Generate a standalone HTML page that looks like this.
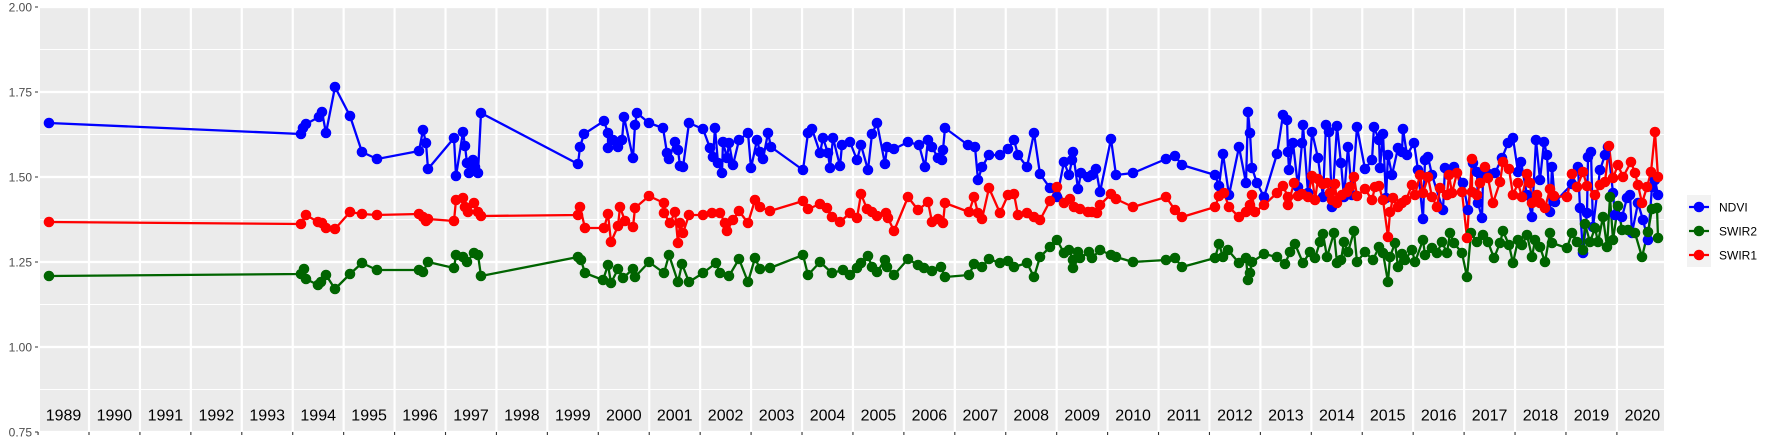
<!DOCTYPE html>
<html><head><meta charset="utf-8"><style>
html,body{margin:0;padding:0;background:#fff;}
svg{display:block;font-family:"Liberation Sans",Arial,sans-serif;}
</style></head><body>
<svg width="1773" height="442" viewBox="0 0 1773 442" xmlns="http://www.w3.org/2000/svg">
<rect x="0" y="0" width="1773" height="442" fill="#fff"/>
<rect x="40" y="7" width="1624" height="425" fill="#EBEBEB"/>
<g stroke="#fff" stroke-width="1.1">
<line x1="40" x2="1664" y1="49.5" y2="49.5"/><line x1="40" x2="1664" y1="134.5" y2="134.5"/><line x1="40" x2="1664" y1="219.5" y2="219.5"/><line x1="40" x2="1664" y1="304.5" y2="304.5"/><line x1="40" x2="1664" y1="389.5" y2="389.5"/>
</g>
<g stroke="#fff" stroke-width="2.2">
<line x1="40" x2="1664" y1="7" y2="7"/><line x1="40" x2="1664" y1="92" y2="92"/><line x1="40" x2="1664" y1="177" y2="177"/><line x1="40" x2="1664" y1="262" y2="262"/><line x1="40" x2="1664" y1="347" y2="347"/><line x1="40" x2="1664" y1="432" y2="432"/>
<path d="M89 7V432M139.93 7V432M190.86 7V432M241.79 7V432M292.72 7V432M343.65 7V432M394.58 7V432M445.51 7V432M496.44 7V432M547.37 7V432M598.3 7V432M649.23 7V432M700.16 7V432M751.09 7V432M802.02 7V432M852.95 7V432M903.88 7V432M954.81 7V432M1005.74 7V432M1056.67 7V432M1107.6 7V432M1158.53 7V432M1209.46 7V432M1260.39 7V432M1311.32 7V432M1362.25 7V432M1413.18 7V432M1464.11 7V432M1515.04 7V432M1565.97 7V432M1616.9 7V432"/>
</g>
<rect x="40" y="432" width="1624" height="10" fill="#fff"/>
<rect x="36" y="0" width="4" height="442" fill="#fff"/>
<g stroke="#333" stroke-width="1.1">
<path d="M35 7H38M35 92H38M35 177H38M35 262H38M35 347H38M35 432H38"/>
<path d="M38.07 432V435M89 432V435M139.93 432V435M190.86 432V435M241.79 432V435M292.72 432V435M343.65 432V435M394.58 432V435M445.51 432V435M496.44 432V435M547.37 432V435M598.3 432V435M649.23 432V435M700.16 432V435M751.09 432V435M802.02 432V435M852.95 432V435M903.88 432V435M954.81 432V435M1005.74 432V435M1056.67 432V435M1107.6 432V435M1158.53 432V435M1209.46 432V435M1260.39 432V435M1311.32 432V435M1362.25 432V435M1413.18 432V435M1464.11 432V435M1515.04 432V435M1565.97 432V435M1616.9 432V435"/>
</g>
<g font-size="12" fill="#4D4D4D" text-anchor="end">
<text x="32" y="11.3">2.00</text><text x="32" y="96.3">1.75</text><text x="32" y="181.3">1.50</text><text x="32" y="266.3">1.25</text><text x="32" y="351.3">1.00</text><text x="32" y="436.3">0.75</text>
</g>
<g font-size="16" fill="#000" text-anchor="middle">
<text x="63.5" y="420.5">1989</text><text x="114.4" y="420.5">1990</text><text x="165.4" y="420.5">1991</text><text x="216.3" y="420.5">1992</text><text x="267.2" y="420.5">1993</text><text x="318.2" y="420.5">1994</text><text x="369.1" y="420.5">1995</text><text x="420" y="420.5">1996</text><text x="471" y="420.5">1997</text><text x="521.9" y="420.5">1998</text><text x="572.8" y="420.5">1999</text><text x="623.8" y="420.5">2000</text><text x="674.7" y="420.5">2001</text><text x="725.6" y="420.5">2002</text><text x="776.6" y="420.5">2003</text><text x="827.5" y="420.5">2004</text><text x="878.4" y="420.5">2005</text><text x="929.4" y="420.5">2006</text><text x="980.3" y="420.5">2007</text><text x="1031.2" y="420.5">2008</text><text x="1082.2" y="420.5">2009</text><text x="1133.1" y="420.5">2010</text><text x="1184" y="420.5">2011</text><text x="1234.9" y="420.5">2012</text><text x="1285.9" y="420.5">2013</text><text x="1336.8" y="420.5">2014</text><text x="1387.7" y="420.5">2015</text><text x="1438.7" y="420.5">2016</text><text x="1489.6" y="420.5">2017</text><text x="1540.5" y="420.5">2018</text><text x="1591.5" y="420.5">2019</text><text x="1642.4" y="420.5">2020</text>
</g>

<g fill="none" stroke-width="2.3" stroke-linejoin="round">
<polyline stroke="#0000FF" points="49,123 301,134 303,128 306,124 319,117 322,112 326,133 335,87 350,116 362,152 377,159 419,151 423,130 426,143 428,169 454,138 456,176 463,132 465,146 467,163 469,173 473,160 475,167 478,173 481,113 578,164 580,147 584,134 604,121 608,133 608,148 613,140 618,147 622,140 624,117 633,158 635,125 637,113 649,123 663,128 667,153 669,159 675,142 678,150 680,166 683,167 689,123 703,129 710,148 713,157 715,128 718,163 722,173 723,142 727,158 729,143 733,165 739,140 748,133 751,168 757,140 760,152 763,159 768,133 771,147 803,170 808,133 812,129 820,153 823,138 828,153 830,168 833,138 840,166 842,145 850,142 857,160 861,145 868,170 872,134 877,123 885,164 887,147 894,149 908,142 919,145 925,167 928,140 932,147 938,158 942,160 943,150 945,128 968,145 975,147 978,180 982,167 989,155 1000,155 1008,149 1014,140 1018,155 1027,167 1034,133 1040,174 1050,188 1057,197 1064,162 1069,175 1072,160 1073,152 1078,189 1081,173 1088,177 1092,175 1096,169 1100,192 1111,139 1116,175 1133,173 1166,159 1175,156 1182,165 1215,175 1219,186 1223,154 1229,195 1239,147 1246,183 1248,112 1250,133 1252,168 1257,183 1264,197 1277,154 1283,115 1287,120 1288,152 1289,170 1293,143 1298,187 1302,143 1303,125 1308,193 1312,132 1318,158 1323,197 1326,125 1329,132 1332,207 1337,126 1341,163 1344,197 1348,147 1352,195 1357,127 1365,169 1372,160 1374,127 1379,140 1380,168 1383,134 1386,198 1388,155 1392,175 1398,148 1402,152 1403,129 1407,155 1414,143 1418,170 1423,219 1425,160 1428,157 1432,175 1443,210 1445,168 1454,167 1463,183 1468,210 1473,163 1477,172 1478,203 1482,218 1483,177 1487,173 1495,173 1502,158 1508,143 1513,138 1518,172 1521,162 1527,195 1532,217 1536,140 1540,180 1544,142 1547,155 1550,212 1552,167 1555,202 1572,184 1578,167 1580,208 1583,253 1587,213 1588,157 1591,152 1593,227 1600,170 1605,155 1608,147 1613,193 1615,215 1622,217 1627,198 1630,195 1632,233 1638,203 1643,220 1648,240 1652,187 1655,180 1658,195"/>
<polyline stroke="#006400" points="49,276 301,274 304,269 306,279 318,285 321,282 326,275 335,289 350,274 362,263 377,270 419,270 423,272 428,262 454,268 456,255 463,257 467,262 474,253 478,255 481,276 578,257 581,260 585,273 603,280 608,265 611,283 618,269 623,278 633,269 635,277 649,262 664,273 669,255 678,282 682,264 689,282 703,273 716,263 720,273 729,276 739,259 748,282 755,258 760,269 770,268 803,255 808,275 820,262 832,273 843,270 850,275 857,268 861,263 868,256 872,267 877,272 885,260 887,267 894,275 908,259 918,265 924,268 932,271 941,267 945,277 969,275 974,264 982,267 989,259 1000,263 1008,261 1014,267 1027,263 1034,277 1040,257 1050,247 1057,240 1064,253 1069,250 1073,260 1073,268 1078,252 1080,258 1089,252 1092,258 1100,250 1111,255 1116,257 1133,262 1166,260 1175,258 1182,267 1215,258 1219,244 1223,257 1228,250 1239,263 1246,258 1248,280 1250,273 1252,262 1264,254 1277,257 1285,264 1290,252 1295,244 1303,263 1310,252 1315,258 1320,242 1323,234 1327,257 1334,233 1337,263 1341,260 1344,242 1348,252 1354,231 1357,262 1365,252 1373,260 1379,247 1383,253 1388,282 1390,257 1395,243 1398,267 1402,254 1405,260 1412,250 1415,262 1423,240 1425,255 1432,248 1437,253 1442,242 1447,253 1450,233 1454,243 1462,253 1467,277 1471,233 1477,242 1483,235 1488,242 1494,258 1500,243 1503,231 1509,245 1513,263 1518,240 1522,245 1527,235 1532,257 1535,240 1540,247 1545,262 1550,233 1552,243 1567,248 1572,233 1577,242 1583,250 1585,224 1590,242 1595,228 1598,242 1603,217 1607,247 1610,197 1613,240 1618,206 1622,230 1628,230 1635,233 1642,257 1648,232 1652,209 1657,208 1658,238"/>
<polyline stroke="#FF0000" points="49,222 301,224 306,215 318,222 322,223 326,228 335,229 350,212 362,214 377,215 419,214 423,217 426,221 428,219 454,221 456,200 463,198 465,207 468,212 474,203 478,212 481,216 578,215 580,207 585,228 604,228 608,214 611,242 618,226 620,207 625,221 633,227 635,208 649,196 664,203 664,213 670,223 675,212 678,243 680,223 683,233 689,215 703,215 712,213 720,213 725,223 727,231 733,220 739,211 748,223 755,200 760,207 770,211 803,201 808,209 820,204 827,208 832,217 840,222 850,213 857,218 861,194 867,209 872,212 877,216 886,213 888,218 894,231 908,197 918,210 928,202 932,222 938,219 943,223 945,203 969,212 974,197 978,213 982,219 989,188 1000,213 1008,195 1014,194 1018,215 1027,213 1034,217 1040,220 1050,201 1057,187 1064,203 1070,199 1074,207 1080,209 1088,212 1092,212 1097,213 1100,205 1111,194 1116,199 1133,207 1166,197 1175,210 1182,217 1215,207 1219,196 1224,193 1229,207 1239,217 1246,212 1250,205 1252,195 1255,212 1264,205 1277,193 1283,186 1288,197 1288,205 1294,183 1298,196 1302,194 1308,197 1312,176 1315,200 1318,179 1323,184 1327,183 1330,193 1332,200 1335,184 1337,203 1342,195 1347,192 1350,187 1354,177 1357,196 1365,189 1372,200 1375,187 1379,186 1383,200 1388,237 1390,212 1393,198 1398,207 1402,203 1406,200 1412,185 1415,195 1420,175 1423,193 1428,177 1432,197 1437,207 1440,188 1447,195 1449,175 1452,193 1457,173 1462,192 1467,238 1472,159 1472,192 1477,195 1480,183 1485,167 1488,178 1493,203 1500,182 1503,162 1509,169 1513,195 1518,183 1522,197 1527,174 1530,183 1532,203 1537,195 1540,203 1545,208 1550,189 1554,196 1567,197 1572,174 1577,187 1583,172 1587,186 1595,195 1600,185 1605,182 1609,146 1613,178 1618,165 1623,177 1631,162 1635,173 1638,185 1642,203 1647,187 1651,172 1655,132 1658,177"/>
</g>

<g fill="none" stroke-width="10.6" stroke-linecap="round">
<path stroke="#0000FF" d="M49 123h0M301 134h0M303 128h0M306 124h0M319 117h0M322 112h0M326 133h0M335 87h0M350 116h0M362 152h0M377 159h0M419 151h0M423 130h0M426 143h0M428 169h0M454 138h0M456 176h0M463 132h0M465 146h0M467 163h0M469 173h0M473 160h0M475 167h0M478 173h0M481 113h0M578 164h0M580 147h0M584 134h0M604 121h0M608 133h0M608 148h0M613 140h0M618 147h0M622 140h0M624 117h0M633 158h0M635 125h0M637 113h0M649 123h0M663 128h0M667 153h0M669 159h0M675 142h0M678 150h0M680 166h0M683 167h0M689 123h0M703 129h0M710 148h0M713 157h0M715 128h0M718 163h0M722 173h0M723 142h0M727 158h0M729 143h0M733 165h0M739 140h0M748 133h0M751 168h0M757 140h0M760 152h0M763 159h0M768 133h0M771 147h0M803 170h0M808 133h0M812 129h0M820 153h0M823 138h0M828 153h0M830 168h0M833 138h0M840 166h0M842 145h0M850 142h0M857 160h0M861 145h0M868 170h0M872 134h0M877 123h0M885 164h0M887 147h0M894 149h0M908 142h0M919 145h0M925 167h0M928 140h0M932 147h0M938 158h0M942 160h0M943 150h0M945 128h0M968 145h0M975 147h0M978 180h0M982 167h0M989 155h0M1000 155h0M1008 149h0M1014 140h0M1018 155h0M1027 167h0M1034 133h0M1040 174h0M1050 188h0M1057 197h0M1064 162h0M1069 175h0M1072 160h0M1073 152h0M1078 189h0M1081 173h0M1088 177h0M1092 175h0M1096 169h0M1100 192h0M1111 139h0M1116 175h0M1133 173h0M1166 159h0M1175 156h0M1182 165h0M1215 175h0M1219 186h0M1223 154h0M1229 195h0M1239 147h0M1246 183h0M1248 112h0M1250 133h0M1252 168h0M1257 183h0M1264 197h0M1277 154h0M1283 115h0M1287 120h0M1288 152h0M1289 170h0M1293 143h0M1298 187h0M1302 143h0M1303 125h0M1308 193h0M1312 132h0M1318 158h0M1323 197h0M1326 125h0M1329 132h0M1332 207h0M1337 126h0M1341 163h0M1344 197h0M1348 147h0M1352 195h0M1357 127h0M1365 169h0M1372 160h0M1374 127h0M1379 140h0M1380 168h0M1383 134h0M1386 198h0M1388 155h0M1392 175h0M1398 148h0M1402 152h0M1403 129h0M1407 155h0M1414 143h0M1418 170h0M1423 219h0M1425 160h0M1428 157h0M1432 175h0M1443 210h0M1445 168h0M1454 167h0M1463 183h0M1468 210h0M1473 163h0M1477 172h0M1478 203h0M1482 218h0M1483 177h0M1487 173h0M1495 173h0M1502 158h0M1508 143h0M1513 138h0M1518 172h0M1521 162h0M1527 195h0M1532 217h0M1536 140h0M1540 180h0M1544 142h0M1547 155h0M1550 212h0M1552 167h0M1555 202h0M1572 184h0M1578 167h0M1580 208h0M1583 253h0M1587 213h0M1588 157h0M1591 152h0M1593 227h0M1600 170h0M1605 155h0M1608 147h0M1613 193h0M1615 215h0M1622 217h0M1627 198h0M1630 195h0M1632 233h0M1638 203h0M1643 220h0M1648 240h0M1652 187h0M1655 180h0M1658 195h0"/>
<path stroke="#006400" d="M49 276h0M301 274h0M304 269h0M306 279h0M318 285h0M321 282h0M326 275h0M335 289h0M350 274h0M362 263h0M377 270h0M419 270h0M423 272h0M428 262h0M454 268h0M456 255h0M463 257h0M467 262h0M474 253h0M478 255h0M481 276h0M578 257h0M581 260h0M585 273h0M603 280h0M608 265h0M611 283h0M618 269h0M623 278h0M633 269h0M635 277h0M649 262h0M664 273h0M669 255h0M678 282h0M682 264h0M689 282h0M703 273h0M716 263h0M720 273h0M729 276h0M739 259h0M748 282h0M755 258h0M760 269h0M770 268h0M803 255h0M808 275h0M820 262h0M832 273h0M843 270h0M850 275h0M857 268h0M861 263h0M868 256h0M872 267h0M877 272h0M885 260h0M887 267h0M894 275h0M908 259h0M918 265h0M924 268h0M932 271h0M941 267h0M945 277h0M969 275h0M974 264h0M982 267h0M989 259h0M1000 263h0M1008 261h0M1014 267h0M1027 263h0M1034 277h0M1040 257h0M1050 247h0M1057 240h0M1064 253h0M1069 250h0M1073 260h0M1073 268h0M1078 252h0M1080 258h0M1089 252h0M1092 258h0M1100 250h0M1111 255h0M1116 257h0M1133 262h0M1166 260h0M1175 258h0M1182 267h0M1215 258h0M1219 244h0M1223 257h0M1228 250h0M1239 263h0M1246 258h0M1248 280h0M1250 273h0M1252 262h0M1264 254h0M1277 257h0M1285 264h0M1290 252h0M1295 244h0M1303 263h0M1310 252h0M1315 258h0M1320 242h0M1323 234h0M1327 257h0M1334 233h0M1337 263h0M1341 260h0M1344 242h0M1348 252h0M1354 231h0M1357 262h0M1365 252h0M1373 260h0M1379 247h0M1383 253h0M1388 282h0M1390 257h0M1395 243h0M1398 267h0M1402 254h0M1405 260h0M1412 250h0M1415 262h0M1423 240h0M1425 255h0M1432 248h0M1437 253h0M1442 242h0M1447 253h0M1450 233h0M1454 243h0M1462 253h0M1467 277h0M1471 233h0M1477 242h0M1483 235h0M1488 242h0M1494 258h0M1500 243h0M1503 231h0M1509 245h0M1513 263h0M1518 240h0M1522 245h0M1527 235h0M1532 257h0M1535 240h0M1540 247h0M1545 262h0M1550 233h0M1552 243h0M1567 248h0M1572 233h0M1577 242h0M1583 250h0M1585 224h0M1590 242h0M1595 228h0M1598 242h0M1603 217h0M1607 247h0M1610 197h0M1613 240h0M1618 206h0M1622 230h0M1628 230h0M1635 233h0M1642 257h0M1648 232h0M1652 209h0M1657 208h0M1658 238h0"/>
<path stroke="#FF0000" d="M49 222h0M301 224h0M306 215h0M318 222h0M322 223h0M326 228h0M335 229h0M350 212h0M362 214h0M377 215h0M419 214h0M423 217h0M426 221h0M428 219h0M454 221h0M456 200h0M463 198h0M465 207h0M468 212h0M474 203h0M478 212h0M481 216h0M578 215h0M580 207h0M585 228h0M604 228h0M608 214h0M611 242h0M618 226h0M620 207h0M625 221h0M633 227h0M635 208h0M649 196h0M664 203h0M664 213h0M670 223h0M675 212h0M678 243h0M680 223h0M683 233h0M689 215h0M703 215h0M712 213h0M720 213h0M725 223h0M727 231h0M733 220h0M739 211h0M748 223h0M755 200h0M760 207h0M770 211h0M803 201h0M808 209h0M820 204h0M827 208h0M832 217h0M840 222h0M850 213h0M857 218h0M861 194h0M867 209h0M872 212h0M877 216h0M886 213h0M888 218h0M894 231h0M908 197h0M918 210h0M928 202h0M932 222h0M938 219h0M943 223h0M945 203h0M969 212h0M974 197h0M978 213h0M982 219h0M989 188h0M1000 213h0M1008 195h0M1014 194h0M1018 215h0M1027 213h0M1034 217h0M1040 220h0M1050 201h0M1057 187h0M1064 203h0M1070 199h0M1074 207h0M1080 209h0M1088 212h0M1092 212h0M1097 213h0M1100 205h0M1111 194h0M1116 199h0M1133 207h0M1166 197h0M1175 210h0M1182 217h0M1215 207h0M1219 196h0M1224 193h0M1229 207h0M1239 217h0M1246 212h0M1250 205h0M1252 195h0M1255 212h0M1264 205h0M1277 193h0M1283 186h0M1288 197h0M1288 205h0M1294 183h0M1298 196h0M1302 194h0M1308 197h0M1312 176h0M1315 200h0M1318 179h0M1323 184h0M1327 183h0M1330 193h0M1332 200h0M1335 184h0M1337 203h0M1342 195h0M1347 192h0M1350 187h0M1354 177h0M1357 196h0M1365 189h0M1372 200h0M1375 187h0M1379 186h0M1383 200h0M1388 237h0M1390 212h0M1393 198h0M1398 207h0M1402 203h0M1406 200h0M1412 185h0M1415 195h0M1420 175h0M1423 193h0M1428 177h0M1432 197h0M1437 207h0M1440 188h0M1447 195h0M1449 175h0M1452 193h0M1457 173h0M1462 192h0M1467 238h0M1472 159h0M1472 192h0M1477 195h0M1480 183h0M1485 167h0M1488 178h0M1493 203h0M1500 182h0M1503 162h0M1509 169h0M1513 195h0M1518 183h0M1522 197h0M1527 174h0M1530 183h0M1532 203h0M1537 195h0M1540 203h0M1545 208h0M1550 189h0M1554 196h0M1567 197h0M1572 174h0M1577 187h0M1583 172h0M1587 186h0M1595 195h0M1600 185h0M1605 182h0M1609 146h0M1613 178h0M1618 165h0M1623 177h0M1631 162h0M1635 173h0M1638 185h0M1642 203h0M1647 187h0M1651 172h0M1655 132h0M1658 177h0"/>
</g>

<rect x="1687" y="195" width="24" height="72" fill="#F2F2F2"/>
<g stroke-width="2.3">
<line x1="1689" x2="1709" y1="207" y2="207" stroke="#0000FF"/>
<line x1="1689" x2="1709" y1="231" y2="231" stroke="#006400"/>
<line x1="1689" x2="1709" y1="255" y2="255" stroke="#FF0000"/>
</g>
<circle cx="1699" cy="207" r="5.3" fill="#0000FF"/>
<circle cx="1699" cy="231" r="5.3" fill="#006400"/>
<circle cx="1699" cy="255" r="5.3" fill="#FF0000"/>
<g font-size="12" fill="#000">
<text x="1719" y="211.3">NDVI</text>
<text x="1719" y="235.3">SWIR2</text>
<text x="1719" y="259.3">SWIR1</text>
</g>
</svg>
</body></html>
